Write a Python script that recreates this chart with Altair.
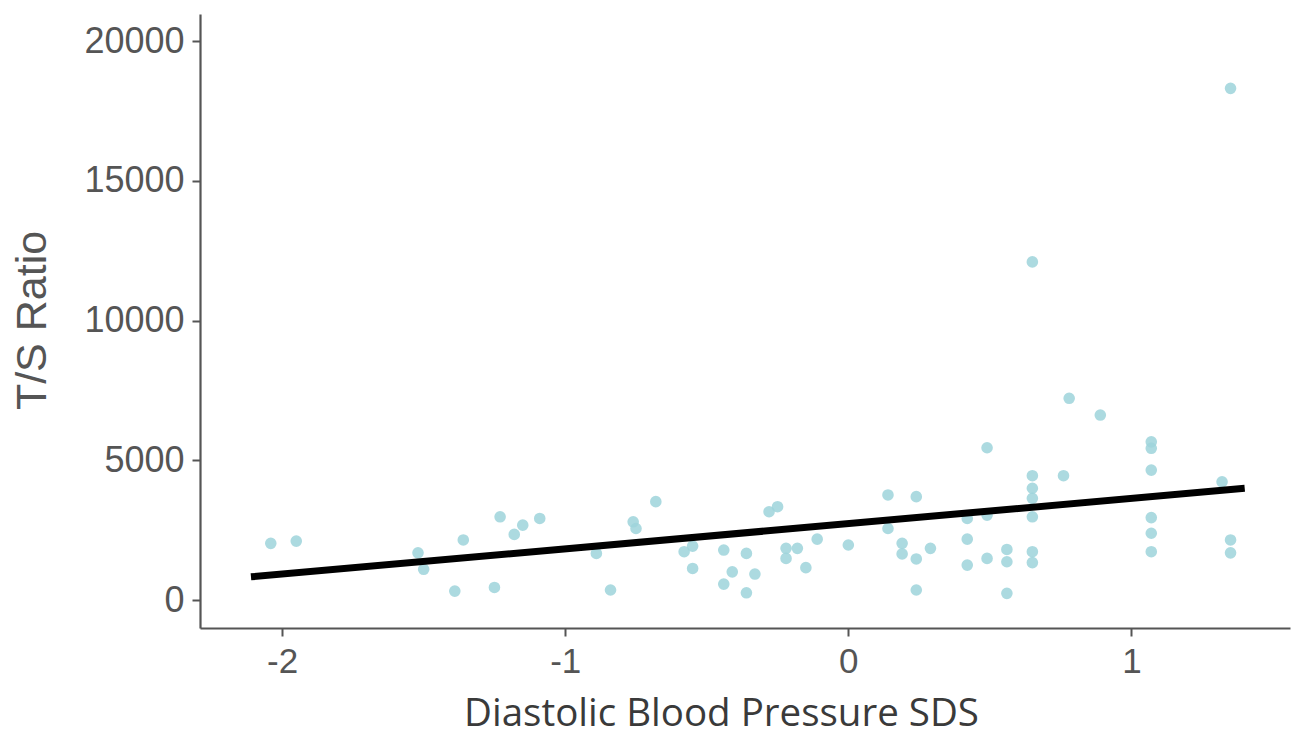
import altair as alt
import pandas as pd

# Scatter data
sds = [-2.04, -1.95, -1.52, -1.50, -1.39, -1.36, -1.25, -1.23, -1.18, -1.15,
       -1.09, -0.89, -0.84, -0.76, -0.75, -0.68, -0.58, -0.55, -0.55, -0.44,
       -0.44, -0.41, -0.36, -0.36, -0.33, -0.28, -0.25, -0.22, -0.22, -0.18,
       -0.15, -0.11, 0.00, 0.14, 0.14, 0.19, 0.19, 0.24, 0.24, 0.24,
       0.29, 0.42, 0.42, 0.42, 0.49, 0.49, 0.49, 0.56, 0.56, 0.56,
       0.65, 0.65, 0.65, 0.65, 0.65, 0.65, 0.65, 0.76, 0.78, 0.89,
       1.07, 1.07, 1.07, 1.07, 1.07, 1.07, 1.32, 1.35, 1.35, 1.35]
ts_ratio = [2030, 2110, 1690, 1100, 320, 2150, 450, 2980, 2350, 2680,
            2920, 1670, 360, 2800, 2560, 3520, 1730, 1930, 1130, 1790,
            570, 1010, 1670, 260, 930, 3160, 3340, 1850, 1490, 1850,
            1160, 2180, 1970, 3760, 2560, 2030, 1650, 3700, 1470, 360,
            1850, 2920, 2180, 1250, 5450, 3040, 1490, 1810, 1370, 240,
            12100, 4450, 4000, 3640, 2980, 1730, 1340, 4450, 7220, 6620,
            5660, 5430, 4650, 2950, 2390, 1730, 4230, 2150, 1690, 18310]

# Fitted line end points
fit_x = [-2.11, 1.40]
fit_y = [830, 4000]

x_ticks = [-2, -1, 0, 1]
y_ticks = [0, 5000, 10000, 15000, 20000]

pts = pd.DataFrame({"sds": sds, "ts": ts_ratio})
fit = pd.DataFrame({"sds": fit_x, "ts": fit_y})

xscale = alt.Scale(domain=[-2.29, 1.56], nice=False, zero=False)
yscale = alt.Scale(domain=[-1000, 20970], nice=False, zero=False)

xaxis = alt.Axis(
    values=x_ticks, labelExpr="'' + datum.value", grid=False,
    title="Diastolic Blood Pressure SDS",
    labelFont="Liberation Sans", labelFontSize=35, labelColor="#555555",
    labelPadding=8, tickSize=8, tickColor="#555555", tickWidth=2,
    domainColor="#555555", domainWidth=2.2,
    titleFont="Open Sans", titleFontSize=38.5, titleFontWeight="normal",
    titleColor="#3a3a3a", titleX=521, titleY=97, titleAlign="center",
    titleBaseline="alphabetic",
)
yaxis = alt.Axis(
    values=y_ticks, format="d", grid=False, title="T/S Ratio",
    labelFont="Liberation Sans", labelFontSize=36, labelColor="#555555",
    labelPadding=8, tickSize=8, tickColor="#555555", tickWidth=2,
    domainColor="#555555", domainWidth=2.2,
    titleFont="Liberation Sans", titleFontSize=43, titleFontWeight="normal",
    titleColor="#555555", titleAngle=-90, titleX=-168, titleY=306,
    titleAlign="center", titleBaseline="middle",
)

points = alt.Chart(pts).mark_circle(size=135, color="#9dd4da", opacity=0.85).encode(
    x=alt.X("sds:Q", scale=xscale, axis=xaxis),
    y=alt.Y("ts:Q", scale=yscale, axis=yaxis),
)

line = alt.Chart(fit).mark_line(color="black", strokeWidth=7).encode(
    x=alt.X("sds:Q", scale=xscale),
    y=alt.Y("ts:Q", scale=yscale),
)

chart = (points + line).properties(
    width=1090, height=614,
    autosize=alt.AutoSizeParams(type="none"),
    padding={"left": 192, "top": 6, "right": 3, "bottom": 107},
    background="white",
).configure_view(stroke=None)

chart.save("out.html", embed_options={"renderer": "svg", "actions": False})
